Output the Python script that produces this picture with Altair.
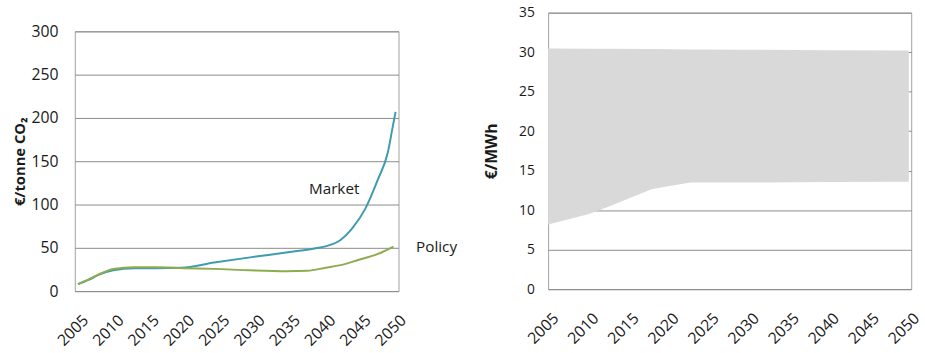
import altair as alt
import pandas as pd

# Carbon price paths (€/tonne CO2)
market_years = [2005, 2006.5, 2008, 2010, 2013, 2016, 2019.6, 2024.3, 2029.4, 2034.5,
                2038.7, 2040.2, 2042.2, 2043.8, 2045.7, 2047.5, 2048.9, 2049.6, 2050]
market_vals = [8, 13, 19, 24, 26.5, 26.5, 27, 33, 39, 44.6,
               49.5, 52, 59, 72, 95, 129, 160, 190, 207]

policy_years = [2005, 2006.5, 2008, 2010, 2013, 2016, 2020, 2024.3, 2029.4, 2034.5,
                2037.5, 2040.1, 2042.2, 2044.7, 2047.5, 2049.7]
policy_vals = [8, 13.5, 19.5, 25.5, 27.5, 27.5, 26.5, 25.7, 24, 23,
               23.5, 27, 30, 36, 43, 51.5]

# Electricity cost band (€/MWh)
band_years = [2005, 2010.1, 2012.2, 2017.9, 2020.3, 2022.8, 2030, 2040, 2050]
band_low = [8.2, 9.5, 10.3, 12.66, 13.1, 13.5, 13.5, 13.55, 13.6]
band_high = [30.45, 30.43, 30.42, 30.4, 30.38, 30.35, 30.3, 30.25, 30.2]

# Series labels placed beside the curves
label_text = ["Market", "Policy"]
label_year = [2041.3, 2052.9]
label_price = [118, 51]

year_ticks = list(range(2005, 2051, 5))
FONT = "Open Sans"
INK = "#1a1a1a"

lines_df = pd.concat([
    pd.DataFrame({"year": market_years, "price": market_vals, "series": "Market"}),
    pd.DataFrame({"year": policy_years, "price": policy_vals, "series": "Policy"}),
])
labels_df = pd.DataFrame({"year": label_year, "price": label_price, "text": label_text})
band_df = pd.DataFrame({"year": band_years, "low": band_low, "high": band_high})

x_left = alt.X("year:Q", scale=alt.Scale(domain=[2004.55, 2050.42], nice=False, zero=False),
               axis=alt.Axis(values=year_ticks, format="d", labelAngle=-45, grid=False,
                             ticks=False, domain=False, title=None, labelPadding=21,
                             labelOffset=2, labelOverlap=False, labelFontSize=16))
y_left = alt.Y("price:Q", scale=alt.Scale(domain=[0, 300], nice=False),
               axis=alt.Axis(values=list(range(0, 301, 50)), title="€/tonne CO₂",
                             ticks=False, domain=False, labelPadding=17, titlePadding=4,
                             labelFontSize=16, titleFontSize=15))

lines = alt.Chart(lines_df).mark_line(interpolate="monotone", strokeWidth=2).encode(
    x=x_left, y=y_left,
    color=alt.Color("series:N", scale=alt.Scale(domain=["Market", "Policy"],
                                                range=["#3f9bb0", "#8cac4f"]), legend=None),
)
market_label = alt.Chart(labels_df.iloc[[0]]).mark_text(
    font=FONT, fontSize=15.5, color=INK, align="center").encode(
    x=x_left, y=y_left, text="text:N")
policy_label = alt.Chart(labels_df.iloc[[1]]).mark_text(
    font=FONT, fontSize=15.5, color=INK, align="left").encode(
    x=x_left, y=y_left, text="text:N")

left_plot = alt.layer(lines, market_label, policy_label).properties(width=329, height=264)

# empty strip that lowers the left panel below the right one
spacer = alt.Chart(pd.DataFrame({"v": [0]})).mark_point(opacity=0, size=1).encode(
    x=alt.X("v:Q", axis=None), y=alt.Y("v:Q", axis=None)
).properties(width=329, height=1, view=alt.ViewBackground(stroke=None))

left = alt.vconcat(spacer, left_plot, spacing=9)

x_right = alt.X("year:Q", scale=alt.Scale(domain=[2005, 2050.3], nice=False, zero=False),
                axis=alt.Axis(values=year_ticks, format="d", labelAngle=-45, grid=False,
                              ticks=False, domain=False, title=None, labelPadding=21,
                              labelOffset=2, labelOverlap=False, labelFontSize=16))
y_right = alt.Y("low:Q", scale=alt.Scale(domain=[0, 35], nice=False),
                axis=alt.Axis(values=list(range(0, 36, 5)), title="€/MWh",
                              ticks=False, domain=False, labelPadding=14, titlePadding=19,
                              labelFontSize=14, titleFontSize=16))

right = alt.Chart(band_df).mark_area(color="#d9d9d9", opacity=1).encode(
    x=x_right, y=y_right, y2="high:Q",
).properties(width=369, height=281)

chart = alt.hconcat(left, right, spacing=26).configure_view(
    stroke="#a0a0a0", strokeWidth=1
).configure_axis(
    labelFont=FONT, labelColor=INK,
    titleFont=FONT, titleFontWeight="bold", titleColor=INK,
    gridColor="#8a8a8a", gridWidth=1,
).properties(
    background="white", padding={"left": 12, "top": 2, "right": 2, "bottom": 0}
)

chart.save("out.html", embed_options={"renderer": "svg", "actions": False})
